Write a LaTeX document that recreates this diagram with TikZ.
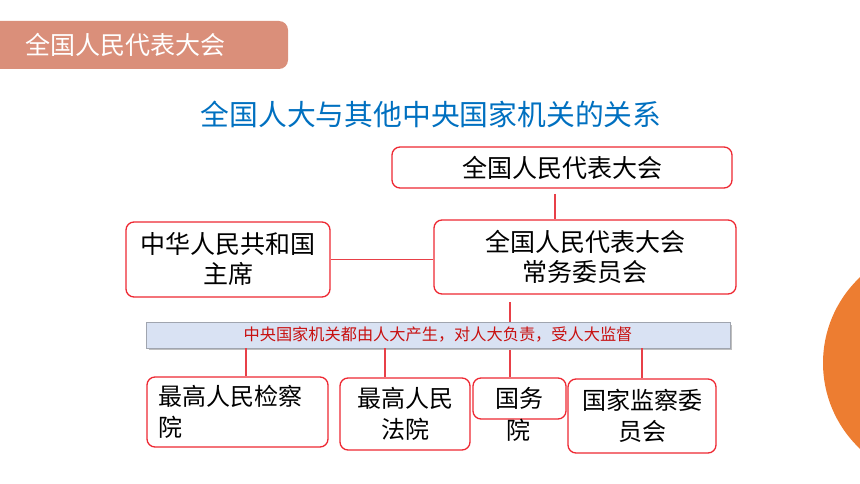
\documentclass[tikz,border=0pt]{standalone}
\usepackage{fontspec}
\setmainfont{Noto Sans CJK SC}
\usepackage{xcolor}
\definecolor{tagsalmon}{RGB}{218,143,122}
\definecolor{titleblue}{RGB}{0,112,192}
\definecolor{boxred}{RGB}{238,40,50}
\definecolor{linered}{RGB}{232,64,72}
\definecolor{bannerblue}{RGB}{217,226,243}
\definecolor{bannergray}{RGB}{160,165,175}
\definecolor{textred}{RGB}{200,16,16}
\definecolor{orangedisc}{RGB}{237,125,49}

\begin{document}
\begin{tikzpicture}[x=1pt,y=-1pt,
  redbox/.style={draw=boxred,line width=1.3pt,rounded corners=8pt,fill=white,inner sep=0pt,align=center,font=\fontsize{25}{30}\selectfont},
  lowbox/.style={redbox,font=\fontsize{24}{31}\selectfont},
  link/.style={draw=linered,line width=1.3pt}]
\useasboundingbox (0,0) rectangle (860,484);
\clip (0,0) rectangle (860,484);
\fill[orangedisc] (941,363) circle (118);
% header tag
\node[fill=tagsalmon,rounded corners=9pt,minimum width=320pt,minimum height=48pt,inner sep=0pt] (tag) at (128,45) {};
\node[text=white,font=\fontsize{25}{28}\selectfont] (tagtext) at (125.5,45) {全国人民代表大会};
\node[text=titleblue,font=\fontsize{28.8}{32}\selectfont] (title) at (431,114) {全国人大与其他中央国家机关的关系};
% upper boxes
\node[redbox,minimum width=340pt,minimum height=41pt] (npc) at (562,167.5) {全国人民代表大会};
\node[redbox,minimum width=302pt,minimum height=74pt] (npcsc) at (585,257) {全国人民代表大会\\常务委员会};
\node[redbox,minimum width=204pt,minimum height=75pt] (president) at (228,259.5) {中华人民共和国\\主席};
\coordinate (npcstem) at (555,194);
\coordinate (scstem) at (510,302);
\coordinate (procstem) at (246,0);
\coordinate (courtstem) at (385,0);
\coordinate (supstem) at (642,0);
\draw[link] (npcstem) -- (npcstem |- npcsc.north);
\draw[link] (president.east) -- (president.east -| npcsc.west);
% lower boxes
\node[lowbox,minimum width=93pt,minimum height=41pt] (council) at (519.5,398.5) {国务};
\node[font=\fontsize{24}{31}\selectfont] (councilyuan) at (518,430) {院};
\draw[link] (scstem) -- (scstem |- council.north);
\fill[black!25] (149,325) rectangle (732,350);
\node[draw=bannergray,line width=0.8pt,fill=bannerblue,minimum width=584pt,minimum height=26pt,inner sep=0pt,text=textred,font=\fontsize{16.2}{18}\selectfont] (banner) at (438,335) {中央国家机关都由人大产生，对人大负责，受人大监督};
\node[lowbox,text width=159pt,align=left,inner xsep=11pt,minimum height=70pt] (procuratorate) at (237.5,412) {最高人民检察\\院};
\node[lowbox,minimum width=130pt,minimum height=72pt] (court) at (405,414) {最高人民\\法院};
\node[lowbox,minimum width=148pt,minimum height=74pt] (supervision) at (642,416) {国家监察委\\员会};
\draw[link] (banner.south -| procstem) -- (procuratorate.north -| procstem);
\draw[link] (banner.south -| courtstem) -- (court.north -| courtstem);
\draw[link] (banner.south -| supstem) -- (supervision.north -| supstem);
\end{tikzpicture}
\end{document}
